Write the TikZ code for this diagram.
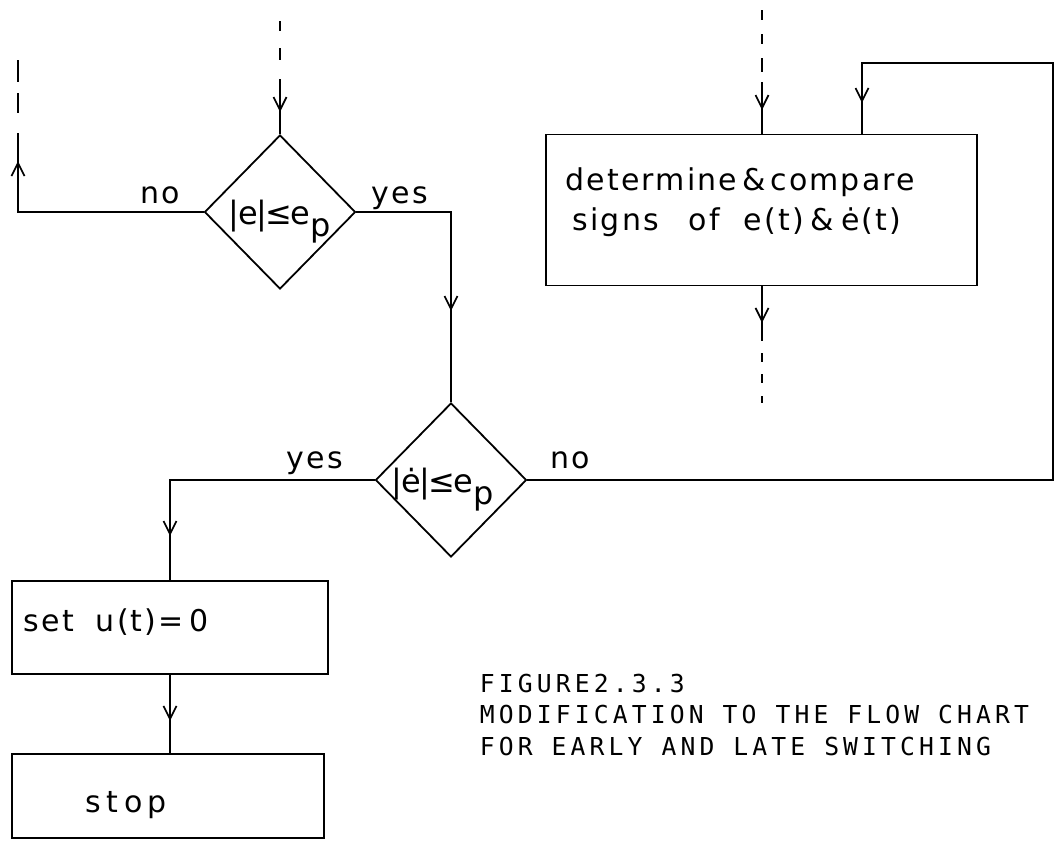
\documentclass[tikz,border=0pt]{standalone}
\usepackage{fontspec}
\newfontfamily\lblfont[LetterSpace=7]{DejaVu Sans}
\newfontfamily\decfont[LetterSpace=-5]{DejaVu Sans}
\newfontfamily\capfont[LetterSpace=16.7]{DejaVu Sans Mono}
\usetikzlibrary{arrows.meta,shapes.geometric,decorations.markings}
\begin{document}
\begin{tikzpicture}[x=1pt,y=-1pt, line width=1.7pt,
  vtip/.tip={Straight Barb[length=13pt,width=13pt]},
  arrowat/.style={postaction={decorate,decoration={markings,mark=at position #1 with {\arrow{vtip}}}}},
  dec/.style={draw, diamond, minimum width=151pt, minimum height=154pt, inner sep=0pt, line width=1.8pt},
  box/.style={draw, rectangle, inner sep=0pt, line width=1.6pt},
  lbl/.style={anchor=base west, inner sep=0pt, font=\lblfont\fontsize{30}{32}\selectfont},
  dectxt/.style={anchor=base west, inner sep=0pt, font=\decfont\fontsize{32}{34}\selectfont},
  captxt/.style={anchor=base west, inner sep=0pt, font=\capfont\fontsize{24.7}{26}\selectfont}]
\useasboundingbox (0,0) rectangle (1064,841);

% shapes
\node[dec] (d1) at (280,212) {};
\node[dec] (d2) at (451,480) {};
\node[box, minimum width=431pt, minimum height=151pt] (b1) at (761.5,210) {};
\node[box, minimum width=316pt, minimum height=93pt] (b2) at (170,627.5) {};
\node[box, minimum width=312pt, minimum height=84pt] (b3) at (168,796) {};

% texts
\node[dectxt] (t1) at (228,224) {|e|≤e\raisebox{-12pt}{p}};
\node[dectxt] (t2) at (391,492) {|ė|≤e\raisebox{-12pt}{p}};
\node[lbl] (n1) at (140,203) {no};
\node[lbl] (y1) at (371,203) {yes};
\node[lbl] (y2) at (286,468) {yes};
\node[lbl] (n2) at (550,468) {no};
\node[lbl] (bt1) at (565,190) {determine\hspace{5pt}\&\hspace{5pt}compare};
\node[lbl] (bt2) at (572,230) {signs\hspace{30pt}of\hspace{24pt}e(t)\hspace{7pt}\&\hspace{7pt}ė(t)};
\node[lbl] (st) at (23,631) {set\hspace{22pt}u(t)=\hspace{6pt}0};
\node[lbl] (sp) at (85,812) {\addfontfeatures{LetterSpace=18}stop};

\node[captxt] (c1) at (479,692) {FIGURE2.3.3};
\node[captxt] (c2) at (479,723) {MODIFICATION TO THE FLOW CHART};
\node[captxt] (c3) at (479,755) {FOR EARLY AND LATE SWITCHING};

% coordinates for free ends
\coordinate (a1) at (280,21);
\coordinate (a2) at (280,79);
\coordinate (l2) at (18,133);
\coordinate (l3) at (18,60);
\coordinate (r1) at (1053,63);
\coordinate (r2) at (862,63);
\coordinate (m1) at (762,10);
\coordinate (m2) at (762,82);
\coordinate (m3) at (762,341);
\coordinate (m4) at (762,403);

% connectors
\draw[dash pattern=on 10pt off 17pt on 12pt off 30pt] (a1) -- (a2);
\draw[arrowat=33pt] (a2) -- (d1.north);

\draw[arrowat=236.5pt] (d1.west) -- (d1.west -| l2) -- (l2);
\draw[dash pattern=on 22pt off 11pt on 20pt off 30pt] (l3) -- (l2);

\draw[arrowat=193.5pt] (d1.east) -- (d1.east -| d2.north) -- (d2.north);

\draw[arrowat=260.5pt] (d2.west) -- (d2.west -| b2.north) -- (b2.north);
\draw[arrowat=46pt] (b2.south) -- (b2.south |- b3.north);

\draw[arrowat=1173.5pt] (d2.east) -- (d2.east -| r1) -- (r1) -- (r2) -- (r2 |- b1.north);

\draw[dash pattern=on 10pt off 14pt on 10pt off 14pt on 14pt off 20pt] (m1) -- (m2);
\draw[arrowat=28pt] (m2) -- (m2 |- b1.north);

\draw[arrowat=36.5pt] (m3 |- b1.south) -- (m3);
\draw[dash pattern=on 0pt off 12pt on 9pt off 12pt on 9pt off 13pt on 7pt off 20pt] (m3) -- (m4);
\end{tikzpicture}
\end{document}
